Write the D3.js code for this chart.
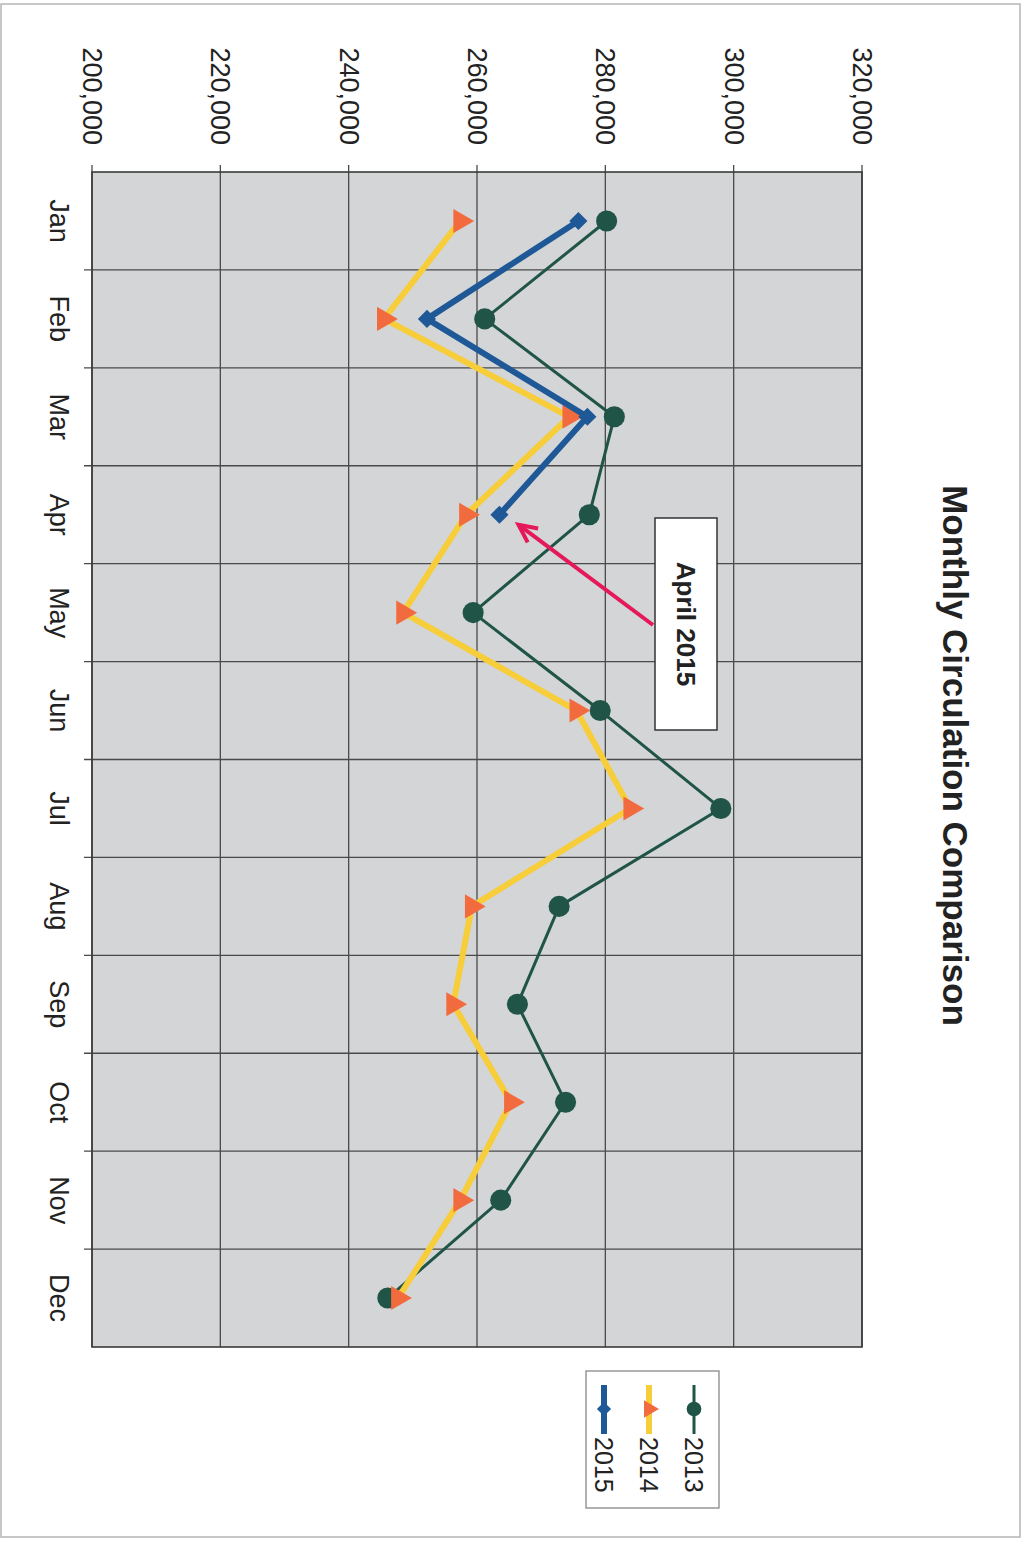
<!DOCTYPE html>
<html>
<head>
<meta charset="utf-8">
<script src="https://cdn.jsdelivr.net/npm/d3@7"></script>
<style>
  html, body { margin: 0; padding: 0; background: #fff; }
  svg { display: block; }
  text { font-family: "Liberation Sans", Arial, sans-serif; fill: #222; }
</style>
</head>
<body>
<svg id="chart" width="1029" height="1543"></svg>
<script>
"use strict";

// data
const months = ["Jan", "Feb", "Mar", "Apr", "May", "Jun", "Jul", "Aug", "Sep", "Oct", "Nov", "Dec"];
const circ2013 = [280200, 261200, 281400, 277500, 259400, 279200, 298000, 272800, 266300, 273800, 263700, 246100];
const circ2014 = [257400, 245500, 274400, 258300, 248500, 275500, 283900, 259200, 256300, 265300, 257400, 247700];
const circ2015 = [275800, 252200, 277200, 263500];
const seriesNames = ["2013", "2014", "2015"];
const valueTicks = [200000, 220000, 240000, 260000, 280000, 300000, 320000];
const titleText = "Monthly Circulation Comparison";
const noteText = "April 2015";
const noteMonth = "Apr";

const W = 1029, H = 1543;
const svg = d3.select("#chart");

// scanned page edge
svg.append("rect")
  .attr("x", 1).attr("y", 4).attr("width", 1019).attr("height", 1533)
  .attr("fill", "none").attr("stroke", "#b5b5b5").attr("stroke-width", 1.5);

// the whole sheet is printed sideways: draw it upright, then turn it
const g = svg.append("g").attr("transform", `translate(${W},0) rotate(90)`);

const plot = {left: 172, right: 1347, top: 167, bottom: 937};

const x = d3.scaleBand().domain(months).range([plot.left, plot.right]);
const y = d3.scaleLinear().domain([200000, 320000]).range([plot.bottom, plot.top]);
const cx = m => x(m) + x.bandwidth() / 2;

g.append("rect")
  .attr("x", plot.left).attr("y", plot.top)
  .attr("width", plot.right - plot.left).attr("height", plot.bottom - plot.top)
  .attr("fill", "#d3d5d7");

// value grid + ticks
g.append("g").selectAll("line").data(valueTicks).join("line")
  .attr("x1", plot.left - 7).attr("x2", plot.right)
  .attr("y1", d => y(d)).attr("y2", d => y(d))
  .attr("stroke", "#4a4a4a").attr("stroke-width", 1.3);

// month boundaries + ticks
g.append("g").selectAll("line").data(months.slice(1)).join("line")
  .attr("x1", d => x(d)).attr("x2", d => x(d))
  .attr("y1", plot.top).attr("y2", plot.bottom + 8)
  .attr("stroke", "#4a4a4a").attr("stroke-width", 1.3);

g.append("rect")
  .attr("x", plot.left).attr("y", plot.top)
  .attr("width", plot.right - plot.left).attr("height", plot.bottom - plot.top)
  .attr("fill", "none").attr("stroke", "#3a3a3a").attr("stroke-width", 1.6);

// value axis labels
const yAxis = d3.axisLeft(y).tickValues(valueTicks).tickFormat(d3.format(",")).tickSize(0).tickPadding(27);
g.append("g").attr("transform", `translate(${plot.left},0)`).call(yAxis)
  .call(s => s.select(".domain").remove())
  .selectAll("text").attr("font-size", 27).attr("font-family", "Liberation Sans, Arial, sans-serif").attr("fill", "#222");

// month labels
const xAxis = d3.axisBottom(x).tickSize(0).tickPadding(0);
g.append("g").attr("transform", `translate(0,${plot.bottom})`).call(xAxis)
  .call(s => s.select(".domain").remove())
  .selectAll("text").attr("font-size", 27).attr("font-family", "Liberation Sans, Arial, sans-serif")
  .attr("fill", "#222").attr("dy", 0).attr("y", 42);

// series styles
const styles = [
  {values: circ2013, line: "#1f5446", width: 3, fill: "#1f5446", symbol: d3.symbolCircle, size: 350, legSize: 170, rot: 0},
  {values: circ2014, line: "#f7cd3a", width: 6, fill: "#f26b3e", symbol: d3.symbolTriangle, size: 250, legSize: 130, rot: 0},
  {values: circ2015, line: "#1f5896", width: 6, fill: "#1f5896", symbol: d3.symbolSquare, size: 165, legSize: 100, rot: 45}
];

const lineFn = d3.line().x((d, i) => cx(months[i])).y(d => y(d));

styles.forEach(s => {
  const sg = g.append("g");
  sg.append("path")
    .attr("d", lineFn(s.values))
    .attr("fill", "none").attr("stroke", s.line).attr("stroke-width", s.width)
    .attr("stroke-linejoin", "round");
  sg.selectAll("path.mk").data(s.values).join("path")
    .attr("class", "mk")
    .attr("d", d3.symbol(s.symbol, s.size))
    .attr("transform", (d, i) => `translate(${cx(months[i])},${y(d)}) rotate(${s.rot})`)
    .attr("fill", s.fill);
});

// title
g.append("text")
  .attr("x", (plot.left + plot.right) / 2 - 4).attr("y", 86)
  .attr("text-anchor", "middle").attr("font-size", 35).attr("font-weight", "bold")
  .text(titleText);

// callout for April 2015
const noteVal = circ2015[months.indexOf(noteMonth)];
const tipX = cx(noteMonth) + 10, tipY = y(noteVal) - 19;
const box = {x: 518, y: 312, w: 212, h: 62};
g.append("rect")
  .attr("x", box.x).attr("y", box.y).attr("width", box.w).attr("height", box.h)
  .attr("fill", "#fff").attr("stroke", "#333").attr("stroke-width", 1.5);
g.append("text")
  .attr("x", box.x + box.w / 2).attr("y", box.y + box.h / 2)
  .attr("dy", "0.36em").attr("text-anchor", "middle")
  .attr("font-size", 26).attr("font-weight", "bold")
  .text(noteText);

const sx = box.x + 107, sy = box.y + box.h + 2;
const ang = Math.atan2(tipY - sy, tipX - sx);
const hl = 20, ha = 0.45;
g.append("line")
  .attr("x1", sx).attr("y1", sy).attr("x2", tipX).attr("y2", tipY)
  .attr("stroke", "#e5195a").attr("stroke-width", 4);
g.append("path")
  .attr("d", d3.line()([
    [tipX - hl * Math.cos(ang - ha), tipY - hl * Math.sin(ang - ha)],
    [tipX, tipY],
    [tipX - hl * Math.cos(ang + ha), tipY - hl * Math.sin(ang + ha)]
  ]))
  .attr("fill", "none").attr("stroke", "#e5195a").attr("stroke-width", 4)
  .attr("stroke-linejoin", "miter");

// legend
const leg = g.append("g").attr("transform", "translate(1371,310)");
leg.append("rect").attr("width", 137).attr("height", 133)
  .attr("fill", "#fff").attr("stroke", "#888").attr("stroke-width", 1.3);
styles.forEach((s, i) => {
  const ry = 25 + i * 45;
  leg.append("line").attr("x1", 14).attr("x2", 63).attr("y1", ry).attr("y2", ry)
    .attr("stroke", s.line).attr("stroke-width", s.width);
  leg.append("path")
    .attr("d", d3.symbol(s.symbol, s.legSize))
    .attr("transform", `translate(38,${ry}) rotate(${s.rot})`)
    .attr("fill", s.fill);
  leg.append("text").attr("x", 66).attr("y", ry).attr("dy", "0.36em")
    .attr("font-size", 25).text(seriesNames[i]);
});
</script>
</body>
</html>
